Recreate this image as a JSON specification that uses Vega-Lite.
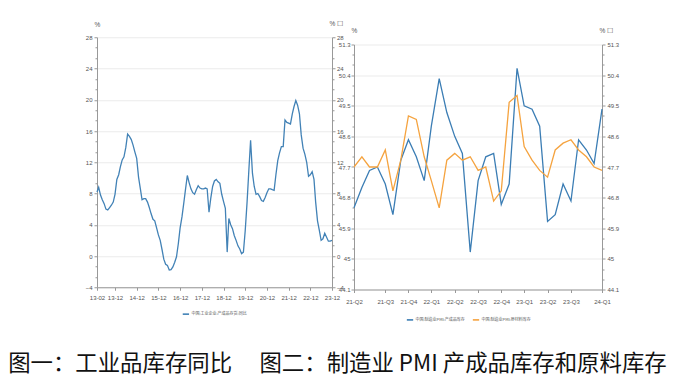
{
  "$schema": "https://vega.github.io/schema/vega-lite/v6.json",
  "background": "white",
  "padding": {"left": 8, "top": 20, "right": 0, "bottom": 0},
  "spacing": -6,
  "center": {"row": true},
  "title": {"text": "图一：工业品库存同比　  图二：制造业 PMI 产成品库存和原料库存", "orient": "bottom", "anchor": "start", "dx": -77, "offset": 22, "fontSize": 22.4, "font": "Noto Sans CJK SC", "fontWeight": "normal", "color": "#111"},
  "config": {
    "view": {"stroke": null},
    "font": "Liberation Sans Narrow, Liberation Sans, sans-serif",
    "axis": {"labelFontSize": 6, "labelColor": "#555", "domainColor": "#999", "tickColor": "#999", "gridColor": "#ebebeb", "labelPadding": 2, "tickSize": 3, "titleFontWeight": "normal", "titleFontSize": 6.5, "titleColor": "#555"},
    "legend": {"labelFontSize": 4, "labelColor": "#555", "labelFont": "Noto Sans CJK SC"}
  },
  "datasets": {
    "ind": [
      {"d": "2013/02/01", "v": 8.2}, {"d": "2013/03/01", "v": 8.8}, {"d": "2013/04/01", "v": 7.8}, {"d": "2013/05/01", "v": 7.2}, {"d": "2013/06/01", "v": 6.7}, {"d": "2013/07/01", "v": 6.0}, {"d": "2013/08/01", "v": 5.9}, {"d": "2013/09/01", "v": 6.2}, {"d": "2013/10/01", "v": 6.5}, {"d": "2013/11/01", "v": 6.9}, {"d": "2013/12/01", "v": 7.9},
      {"d": "2014/01/01", "v": 9.8}, {"d": "2014/02/01", "v": 10.4}, {"d": "2014/03/01", "v": 11.4}, {"d": "2014/04/01", "v": 12.3}, {"d": "2014/05/01", "v": 12.7}, {"d": "2014/06/01", "v": 13.9}, {"d": "2014/07/01", "v": 15.6}, {"d": "2014/08/01", "v": 15.3}, {"d": "2014/09/01", "v": 14.9}, {"d": "2014/10/01", "v": 14.2}, {"d": "2014/11/01", "v": 13.3}, {"d": "2014/12/01", "v": 12.5},
      {"d": "2015/01/01", "v": 10.1}, {"d": "2015/02/01", "v": 8.6}, {"d": "2015/03/01", "v": 7.2}, {"d": "2015/04/01", "v": 7.35}, {"d": "2015/05/01", "v": 7.35}, {"d": "2015/06/01", "v": 6.9}, {"d": "2015/07/01", "v": 6.2}, {"d": "2015/08/01", "v": 5.4}, {"d": "2015/09/01", "v": 4.7}, {"d": "2015/10/01", "v": 4.5}, {"d": "2015/11/01", "v": 3.6}, {"d": "2015/12/01", "v": 2.7},
      {"d": "2016/01/01", "v": 2.0}, {"d": "2016/02/01", "v": 0.8}, {"d": "2016/03/01", "v": -0.4}, {"d": "2016/04/01", "v": -1.05}, {"d": "2016/05/01", "v": -1.2}, {"d": "2016/06/01", "v": -1.8}, {"d": "2016/07/01", "v": -1.75}, {"d": "2016/08/01", "v": -1.4}, {"d": "2016/09/01", "v": -0.8}, {"d": "2016/10/01", "v": -0.1}, {"d": "2016/11/01", "v": 1.6}, {"d": "2016/12/01", "v": 3.6},
      {"d": "2017/01/01", "v": 5.0}, {"d": "2017/02/01", "v": 6.8}, {"d": "2017/03/01", "v": 8.5}, {"d": "2017/04/01", "v": 10.3}, {"d": "2017/05/01", "v": 9.4}, {"d": "2017/06/01", "v": 8.6}, {"d": "2017/07/01", "v": 8.1}, {"d": "2017/08/01", "v": 7.9}, {"d": "2017/09/01", "v": 8.5}, {"d": "2017/10/01", "v": 9.0}, {"d": "2017/11/01", "v": 8.7}, {"d": "2017/12/01", "v": 8.6},
      {"d": "2018/01/01", "v": 8.6}, {"d": "2018/02/01", "v": 8.7}, {"d": "2018/03/01", "v": 8.6}, {"d": "2018/04/01", "v": 5.6}, {"d": "2018/05/01", "v": 7.4}, {"d": "2018/06/01", "v": 8.9}, {"d": "2018/07/01", "v": 9.6}, {"d": "2018/08/01", "v": 9.8}, {"d": "2018/09/01", "v": 9.5}, {"d": "2018/10/01", "v": 9.3}, {"d": "2018/11/01", "v": 7.9}, {"d": "2018/12/01", "v": 7.0},
      {"d": "2019/01/01", "v": 6.1}, {"d": "2019/02/01", "v": 0.5}, {"d": "2019/03/01", "v": 4.8}, {"d": "2019/04/01", "v": 4.0}, {"d": "2019/05/01", "v": 3.5}, {"d": "2019/06/01", "v": 2.6}, {"d": "2019/07/01", "v": 2.0}, {"d": "2019/08/01", "v": 1.3}, {"d": "2019/09/01", "v": 0.9}, {"d": "2019/10/01", "v": 0.3}, {"d": "2019/11/01", "v": 0.5}, {"d": "2019/12/01", "v": 3.2},
      {"d": "2020/01/01", "v": 6.8}, {"d": "2020/02/01", "v": 11.0}, {"d": "2020/03/01", "v": 14.8}, {"d": "2020/04/01", "v": 10.6}, {"d": "2020/05/01", "v": 8.9}, {"d": "2020/06/01", "v": 7.9}, {"d": "2020/07/01", "v": 8.0}, {"d": "2020/08/01", "v": 7.6}, {"d": "2020/09/01", "v": 7.1}, {"d": "2020/10/01", "v": 7.0}, {"d": "2020/11/01", "v": 7.5}, {"d": "2020/12/01", "v": 8.1},
      {"d": "2021/01/01", "v": 8.6}, {"d": "2021/02/01", "v": 8.6}, {"d": "2021/03/01", "v": 8.5}, {"d": "2021/04/01", "v": 8.4}, {"d": "2021/05/01", "v": 10.4}, {"d": "2021/06/01", "v": 12.2}, {"d": "2021/07/01", "v": 13.2}, {"d": "2021/08/01", "v": 14.0}, {"d": "2021/09/01", "v": 14.0}, {"d": "2021/10/01", "v": 17.4}, {"d": "2021/11/01", "v": 17.1}, {"d": "2021/12/01", "v": 17.0},
      {"d": "2022/01/01", "v": 16.9}, {"d": "2022/02/01", "v": 18.2}, {"d": "2022/03/01", "v": 19.1}, {"d": "2022/04/01", "v": 19.9}, {"d": "2022/05/01", "v": 19.3}, {"d": "2022/06/01", "v": 18.2}, {"d": "2022/07/01", "v": 15.5}, {"d": "2022/08/01", "v": 13.8}, {"d": "2022/09/01", "v": 13.0}, {"d": "2022/10/01", "v": 12.0}, {"d": "2022/11/01", "v": 10.2}, {"d": "2022/12/01", "v": 10.4},
      {"d": "2023/01/01", "v": 10.8}, {"d": "2023/02/01", "v": 9.8}, {"d": "2023/03/01", "v": 6.9}, {"d": "2023/04/01", "v": 4.5}, {"d": "2023/05/01", "v": 3.3}, {"d": "2023/06/01", "v": 2.0}, {"d": "2023/07/01", "v": 2.2}, {"d": "2023/08/01", "v": 2.9}, {"d": "2023/09/01", "v": 2.4}, {"d": "2023/10/01", "v": 1.9}, {"d": "2023/11/01", "v": 1.9}, {"d": "2023/12/01", "v": 2.0}
    ],
    "pmi": [
      {"d": "2021/05/01", "s": "中国:制造业PMI:产成品库存", "v": 46.5}, {"d": "2021/06/01", "s": "中国:制造业PMI:产成品库存", "v": 47.1}, {"d": "2021/07/01", "s": "中国:制造业PMI:产成品库存", "v": 47.6}, {"d": "2021/08/01", "s": "中国:制造业PMI:产成品库存", "v": 47.7}, {"d": "2021/09/01", "s": "中国:制造业PMI:产成品库存", "v": 47.2}, {"d": "2021/10/01", "s": "中国:制造业PMI:产成品库存", "v": 46.3}, {"d": "2021/11/01", "s": "中国:制造业PMI:产成品库存", "v": 47.9}, {"d": "2021/12/01", "s": "中国:制造业PMI:产成品库存", "v": 48.5},
      {"d": "2022/01/01", "s": "中国:制造业PMI:产成品库存", "v": 48.0}, {"d": "2022/02/01", "s": "中国:制造业PMI:产成品库存", "v": 47.3}, {"d": "2022/03/01", "s": "中国:制造业PMI:产成品库存", "v": 48.9}, {"d": "2022/04/01", "s": "中国:制造业PMI:产成品库存", "v": 50.3}, {"d": "2022/05/01", "s": "中国:制造业PMI:产成品库存", "v": 49.3}, {"d": "2022/06/01", "s": "中国:制造业PMI:产成品库存", "v": 48.6}, {"d": "2022/07/01", "s": "中国:制造业PMI:产成品库存", "v": 48.1}, {"d": "2022/08/01", "s": "中国:制造业PMI:产成品库存", "v": 45.2}, {"d": "2022/09/01", "s": "中国:制造业PMI:产成品库存", "v": 47.3}, {"d": "2022/10/01", "s": "中国:制造业PMI:产成品库存", "v": 48.0}, {"d": "2022/11/01", "s": "中国:制造业PMI:产成品库存", "v": 48.1}, {"d": "2022/12/01", "s": "中国:制造业PMI:产成品库存", "v": 46.6},
      {"d": "2023/01/01", "s": "中国:制造业PMI:产成品库存", "v": 47.2}, {"d": "2023/02/01", "s": "中国:制造业PMI:产成品库存", "v": 50.6}, {"d": "2023/03/01", "s": "中国:制造业PMI:产成品库存", "v": 49.5}, {"d": "2023/04/01", "s": "中国:制造业PMI:产成品库存", "v": 49.4}, {"d": "2023/05/01", "s": "中国:制造业PMI:产成品库存", "v": 48.9}, {"d": "2023/06/01", "s": "中国:制造业PMI:产成品库存", "v": 46.1}, {"d": "2023/07/01", "s": "中国:制造业PMI:产成品库存", "v": 46.3}, {"d": "2023/08/01", "s": "中国:制造业PMI:产成品库存", "v": 47.2}, {"d": "2023/09/01", "s": "中国:制造业PMI:产成品库存", "v": 46.7}, {"d": "2023/10/01", "s": "中国:制造业PMI:产成品库存", "v": 48.5}, {"d": "2023/11/01", "s": "中国:制造业PMI:产成品库存", "v": 48.2}, {"d": "2023/12/01", "s": "中国:制造业PMI:产成品库存", "v": 47.8},
      {"d": "2024/01/01", "s": "中国:制造业PMI:产成品库存", "v": 49.4},
      {"d": "2021/05/01", "s": "中国:制造业PMI:原材料库存", "v": 47.7}, {"d": "2021/06/01", "s": "中国:制造业PMI:原材料库存", "v": 48.0}, {"d": "2021/07/01", "s": "中国:制造业PMI:原材料库存", "v": 47.7}, {"d": "2021/08/01", "s": "中国:制造业PMI:原材料库存", "v": 47.7}, {"d": "2021/09/01", "s": "中国:制造业PMI:原材料库存", "v": 48.2}, {"d": "2021/10/01", "s": "中国:制造业PMI:原材料库存", "v": 47.0}, {"d": "2021/11/01", "s": "中国:制造业PMI:原材料库存", "v": 47.9}, {"d": "2021/12/01", "s": "中国:制造业PMI:原材料库存", "v": 49.2},
      {"d": "2022/01/01", "s": "中国:制造业PMI:原材料库存", "v": 49.1}, {"d": "2022/02/01", "s": "中国:制造业PMI:原材料库存", "v": 48.0}, {"d": "2022/03/01", "s": "中国:制造业PMI:原材料库存", "v": 47.3}, {"d": "2022/04/01", "s": "中国:制造业PMI:原材料库存", "v": 46.5}, {"d": "2022/05/01", "s": "中国:制造业PMI:原材料库存", "v": 47.9}, {"d": "2022/06/01", "s": "中国:制造业PMI:原材料库存", "v": 48.1}, {"d": "2022/07/01", "s": "中国:制造业PMI:原材料库存", "v": 47.9}, {"d": "2022/08/01", "s": "中国:制造业PMI:原材料库存", "v": 48.0}, {"d": "2022/09/01", "s": "中国:制造业PMI:原材料库存", "v": 47.6}, {"d": "2022/10/01", "s": "中国:制造业PMI:原材料库存", "v": 47.7}, {"d": "2022/11/01", "s": "中国:制造业PMI:原材料库存", "v": 46.7}, {"d": "2022/12/01", "s": "中国:制造业PMI:原材料库存", "v": 47.0},
      {"d": "2023/01/01", "s": "中国:制造业PMI:原材料库存", "v": 49.6}, {"d": "2023/02/01", "s": "中国:制造业PMI:原材料库存", "v": 49.8}, {"d": "2023/03/01", "s": "中国:制造业PMI:原材料库存", "v": 48.3}, {"d": "2023/04/01", "s": "中国:制造业PMI:原材料库存", "v": 47.9}, {"d": "2023/05/01", "s": "中国:制造业PMI:原材料库存", "v": 47.6}, {"d": "2023/06/01", "s": "中国:制造业PMI:原材料库存", "v": 47.4}, {"d": "2023/07/01", "s": "中国:制造业PMI:原材料库存", "v": 48.2}, {"d": "2023/08/01", "s": "中国:制造业PMI:原材料库存", "v": 48.4}, {"d": "2023/09/01", "s": "中国:制造业PMI:原材料库存", "v": 48.5}, {"d": "2023/10/01", "s": "中国:制造业PMI:原材料库存", "v": 48.2}, {"d": "2023/11/01", "s": "中国:制造业PMI:原材料库存", "v": 48.0}, {"d": "2023/12/01", "s": "中国:制造业PMI:原材料库存", "v": 47.7},
      {"d": "2024/01/01", "s": "中国:制造业PMI:原材料库存", "v": 47.6}
    ]
  },
  "hconcat": [
    {
      "width": 235,
      "height": 250,
      "data": {"name": "ind"},
      "encoding": {
        "x": {"field": "d", "type": "temporal",
          "scale": {"domain": [{"year": 2013, "month": 2, "date": 1}, {"year": 2023, "month": 12, "date": 1}]},
          "axis": {"title": null, "grid": false, "labelOverlap": false, "labelFlush": false, "labelPadding": 4,
            "values": [{"year": 2013, "month": 2, "date": 1}, {"year": 2013, "month": 12, "date": 1}, {"year": 2014, "month": 12, "date": 1}, {"year": 2015, "month": 12, "date": 1}, {"year": 2016, "month": 12, "date": 1}, {"year": 2017, "month": 12, "date": 1}, {"year": 2018, "month": 12, "date": 1}, {"year": 2019, "month": 12, "date": 1}, {"year": 2020, "month": 12, "date": 1}, {"year": 2021, "month": 12, "date": 1}, {"year": 2022, "month": 12, "date": 1}, {"year": 2023, "month": 12, "date": 1}],
            "labelExpr": "timeFormat(datum.value, '%y-%m')"}}
      },
      "layer": [
        {"mark": {"type": "line", "strokeWidth": 1.3},
         "encoding": {
           "y": {"field": "v", "type": "quantitative", "scale": {"domain": [-4, 28], "nice": false, "zero": false},
             "axis": {"orient": "left", "values": [-4, 0, 4, 8, 12, 16, 20, 24, 28], "grid": true, "title": "%", "titleAngle": 0, "titleX": 0, "titleY": -13, "titleAlign": "center", "titleBaseline": "middle"}},
           "color": {"datum": "中国:工业企业:产成品存货:同比", "type": "nominal",
             "scale": {"range": ["#4282b6"]},
             "legend": {"title": null, "orient": "none", "legendX": 71.5, "legendY": 259.5, "padding": 13.4, "symbolType": "stroke", "symbolStrokeWidth": 1.6, "symbolSize": 40, "labelOffset": 1.5}}
         }},
        {"mark": {"type": "line", "strokeOpacity": 0},
         "encoding": {
           "y": {"field": "v", "type": "quantitative",
             "axis": {"orient": "right", "values": [-4, 0, 4, 8, 12, 16, 20, 24, 28], "labelPadding": 1.5, "grid": false, "title": "% ☐", "titleAngle": 0, "titleX": -3, "titleY": -14, "titleAlign": "left", "titleBaseline": "middle"}}
         }},
        {"mark": {"type": "line", "strokeOpacity": 0},
         "encoding": {
           "y": {"field": "v", "type": "quantitative",
             "axis": {"orient": "left", "values": [-2.667, -1.333, 1.333, 2.667, 5.333, 6.667, 9.333, 10.667, 13.333, 14.667, 17.333, 18.667, 21.333, 22.667, 25.333, 26.667], "grid": false, "labels": false, "domain": false, "tickSize": 2, "title": null}}
         }},
        {"mark": {"type": "line", "strokeOpacity": 0},
         "encoding": {
           "y": {"field": "v", "type": "quantitative",
             "axis": {"orient": "right", "values": [-2.667, -1.333, 1.333, 2.667, 5.333, 6.667, 9.333, 10.667, 13.333, 14.667, 17.333, 18.667, 21.333, 22.667, 25.333, 26.667], "grid": false, "labels": false, "domain": false, "tickSize": 2, "title": null}}
         }}
      ],
      "resolve": {"axis": {"y": "independent"}}
    },
    {
      "width": 248,
      "height": 245,
      "data": {"name": "pmi"},
      "encoding": {
        "x": {"field": "d", "type": "temporal",
          "scale": {"domain": [{"year": 2021, "month": 5, "date": 1}, {"year": 2024, "month": 1, "date": 1}]},
          "axis": {"title": null, "grid": false, "labelOverlap": false, "labelFlush": false, "labelPadding": 6,
            "values": [{"year": 2021, "month": 5, "date": 1}, {"year": 2021, "month": 9, "date": 1}, {"year": 2021, "month": 12, "date": 1}, {"year": 2022, "month": 3, "date": 1}, {"year": 2022, "month": 6, "date": 1}, {"year": 2022, "month": 9, "date": 1}, {"year": 2022, "month": 12, "date": 1}, {"year": 2023, "month": 3, "date": 1}, {"year": 2023, "month": 6, "date": 1}, {"year": 2023, "month": 9, "date": 1}, {"year": 2024, "month": 1, "date": 1}],
            "labelExpr": "timeFormat(datum.value, '%y') + '-Q' + quarter(datum.value)"}}
      },
      "layer": [
        {"mark": {"type": "line", "strokeWidth": 1.3},
         "encoding": {
           "y": {"field": "v", "type": "quantitative", "scale": {"domain": [44.1, 51.3], "nice": false, "zero": false},
             "axis": {"orient": "left", "values": [44.1, 45, 45.9, 46.8, 47.7, 48.6, 49.5, 50.4, 51.3], "labelExpr": "format(datum.value, '.1~f')", "labelPadding": 1, "grid": true, "title": "%", "titleAngle": 0, "titleX": 0, "titleY": -14, "titleAlign": "center", "titleBaseline": "middle"}},
           "color": {"field": "s", "type": "nominal",
             "scale": {"domain": ["中国:制造业PMI:产成品库存", "中国:制造业PMI:原材料库存"], "range": ["#3b7db4", "#f5a33f"]},
             "legend": {"title": null, "orient": "none", "legendX": 52, "legendY": 271, "direction": "horizontal", "symbolType": "stroke", "symbolStrokeWidth": 1.6, "symbolSize": 40, "labelOffset": 1.5, "columnPadding": 4}}
         }},
        {"mark": {"type": "line", "strokeOpacity": 0},
         "encoding": {
           "y": {"field": "v", "type": "quantitative",
             "axis": {"orient": "right", "values": [44.1, 45, 45.9, 46.8, 47.7, 48.6, 49.5, 50.4, 51.3], "labelExpr": "format(datum.value, '.1~f')", "grid": false, "title": "% ☐", "titleAngle": 0, "titleX": -3, "titleY": -14, "titleAlign": "left", "titleBaseline": "middle"}},
           "detail": {"field": "s"}
         }},
        {"mark": {"type": "line", "strokeOpacity": 0},
         "encoding": {
           "y": {"field": "v", "type": "quantitative",
             "axis": {"orient": "left", "values": [44.4, 44.7, 45.3, 45.6, 46.2, 46.5, 47.1, 47.4, 48.0, 48.3, 48.9, 49.2, 49.8, 50.1, 50.7, 51.0], "grid": false, "labels": false, "domain": false, "tickSize": 2, "title": null}},
           "detail": {"field": "s"}
         }},
        {"mark": {"type": "line", "strokeOpacity": 0},
         "encoding": {
           "y": {"field": "v", "type": "quantitative",
             "axis": {"orient": "right", "values": [44.4, 44.7, 45.3, 45.6, 46.2, 46.5, 47.1, 47.4, 48.0, 48.3, 48.9, 49.2, 49.8, 50.1, 50.7, 51.0], "grid": false, "labels": false, "domain": false, "tickSize": 2, "title": null}},
           "detail": {"field": "s"}
         }}
      ],
      "resolve": {"axis": {"y": "independent"}}
    }
  ],
  "resolve": {"scale": {"color": "independent"}}
}
